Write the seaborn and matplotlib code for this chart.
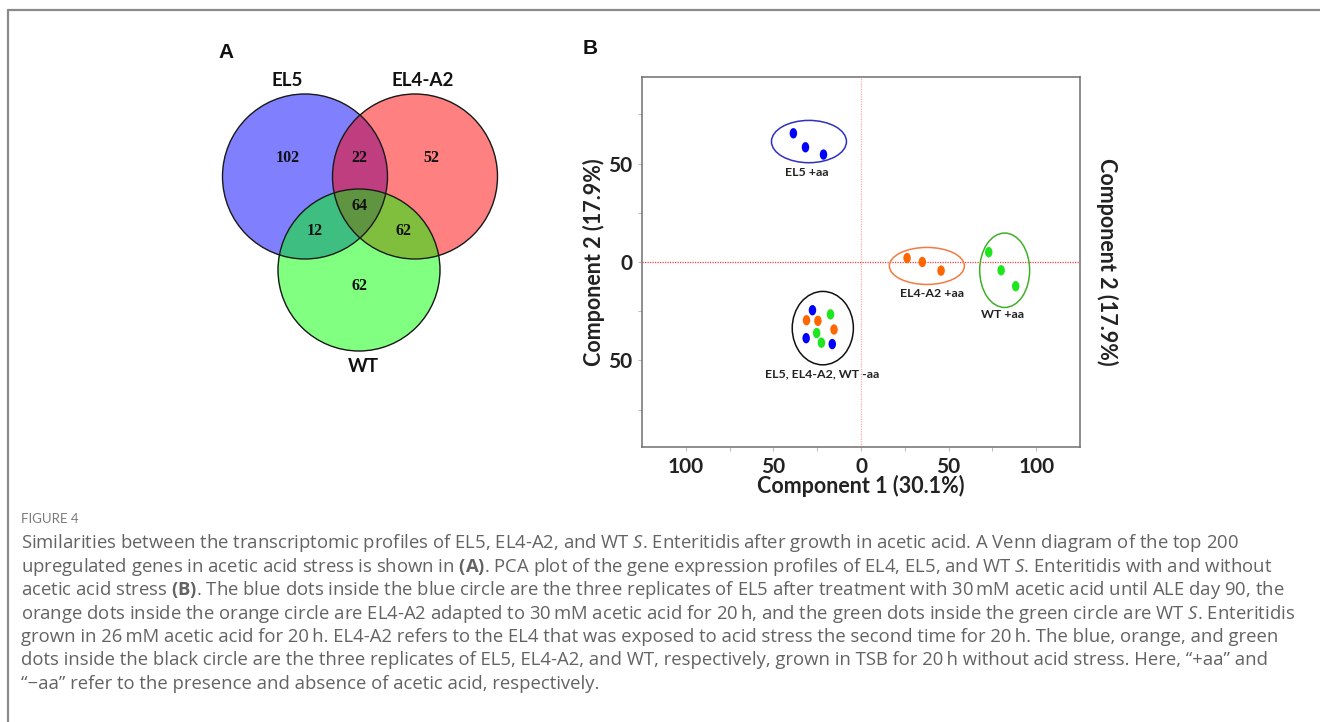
import numpy as np
import pandas as pd
import matplotlib
matplotlib.use("Agg")
import matplotlib.pyplot as plt
import seaborn as sns
from matplotlib.patches import Ellipse, Circle
from matplotlib.path import Path
from matplotlib.lines import Line2D

# ---------------- data ----------------
# Venn (A): counts per region
venn_sets = ["EL5", "EL4-A2", "WT"]
venn_regions = ["EL5 only", "EL4-A2 only", "WT only", "EL5&EL4-A2", "EL5&WT", "EL4-A2&WT", "all"]
venn_counts = [102, 52, 62, 22, 12, 62, 64]

# PCA (B)
pca_strain = ["EL5", "EL5", "EL5", "EL5", "EL5", "EL5",
              "EL4-A2", "EL4-A2", "EL4-A2", "EL4-A2", "EL4-A2", "EL4-A2",
              "WT", "WT", "WT", "WT", "WT", "WT"]
pca_condition = ["+aa", "+aa", "+aa", "-aa", "-aa", "-aa"] * 3
pca_pc1 = [-38.6, -31.7, -21.4, -27.7, -31.3, -16.4,
           26.3, 35.0, 45.7, -31.1, -24.6, -15.4,
           72.9, 80.0, 88.3, -17.4, -25.3, -22.6]
pca_pc2 = [65.4, 58.3, 54.6, -24.5, -38.7, -41.7,
           2.0, 0.0, -4.4, -29.6, -29.9, -34.3,
           5.0, -4.2, -12.3, -26.6, -36.1, -41.0]
cluster_names = ["EL5 +aa", "EL4-A2 +aa", "WT +aa", "EL5, EL4-A2, WT -aa"]
x_ticks = [-100, -50, 0, 50, 100]
x_ticklabels = ["100", "50", "0", "50", "100"]
y_ticks = [-50, 0, 50]
y_ticklabels = ["50", "0", "50"]

# ---------------- style / layout ----------------
W, H = 1320, 722
sns.set_theme(style="white")
plt.rcParams["font.family"] = ["Lato", "DejaVu Sans"]
plt.rcParams["mathtext.fontset"] = "custom"
plt.rcParams["mathtext.rm"] = "Open Sans"
plt.rcParams["mathtext.it"] = "Open Sans:italic"
plt.rcParams["mathtext.bf"] = "Open Sans:bold"

fig = plt.figure(figsize=(W / 100, H / 100), dpi=100)
fig.patch.set_facecolor("white")

def fx(px):
    return px / W

def fy(py):
    return 1 - py / H

# page border (top & left)
fig.add_artist(Line2D([fx(8), 1.0], [fy(10), fy(10)], color="#8a8a8a", lw=1.6))
fig.add_artist(Line2D([fx(8), fx(8)], [fy(10), 0.0], color="#8a8a8a", lw=1.6))

# ---------------- Panel A: Venn ----------------
axv = fig.add_axes([fx(200), fy(400), 320 / W, 370 / H])
axv.set_xlim(200, 520)
axv.set_ylim(400, 30)
axv.axis("off")

centers = {"EL5": (305.0, 176.5), "EL4-A2": (415.0, 176.5), "WT": (359.0, 270.0)}
radius = {"EL5": 82.5, "EL4-A2": 82.5, "WT": 81.0}
region_colors = {
    (1, 0, 0): (128, 128, 255),
    (0, 1, 0): (255, 128, 128),
    (0, 0, 1): (128, 255, 128),
    (1, 1, 0): (190, 62, 128),
    (1, 0, 1): (62, 190, 128),
    (0, 1, 1): (128, 190, 62),
    (1, 1, 1): (95, 150, 64),
}
step = 0.25
gx = np.arange(200, 520, step) + step / 2
gy = np.arange(30, 400, step) + step / 2
XX, YY = np.meshgrid(gx, gy)
masks = []
for s in venn_sets:
    cx, cy = centers[s]
    masks.append(((XX - cx) ** 2 + (YY - cy) ** 2) <= radius[s] ** 2)
img = np.zeros(XX.shape + (4,))
for key, col in region_colors.items():
    m = np.ones(XX.shape, bool)
    for i, k in enumerate(key):
        m &= masks[i] if k else ~masks[i]
    img[m, :3] = np.array(col) / 255
    img[m, 3] = 1
axv.imshow(img, extent=(200, 520, 400, 30), origin="upper", interpolation="antialiased", zorder=1)
for s in venn_sets:
    axv.add_patch(Circle(centers[s], radius[s], fill=False, ec="#1a1a1a", lw=1.0, zorder=2))

count_pos = [(288, 158), (431, 158), (359, 286), (359, 158), (315, 231), (404, 231), (359, 206)]
for (x, y), c in zip(count_pos, venn_counts):
    axv.text(x, y, str(c), ha="center", va="center", fontsize=11.5, fontweight="bold",
             family="Liberation Serif", color="#111", zorder=3)

set_label_pos = {"EL5": (287, 80), "EL4-A2": (423, 80), "WT": (363, 367)}
for s in venn_sets:
    x, y = set_label_pos[s]
    axv.text(x, y, s, ha="center", va="center", fontsize=13.5, fontweight="bold", color="#111")

fig.text(fx(226), fy(52), "A", ha="center", va="center", fontsize=15, fontweight="bold",
         family="Liberation Sans", color="#111")
fig.text(fx(590), fy(49), "B", ha="center", va="center", fontsize=15, fontweight="bold",
         family="Liberation Sans", color="#111")

# ---------------- Panel B: PCA ----------------
L, R, T, B = 642, 1080, 77, 447
ax = fig.add_axes([fx(L), fy(B), (R - L) / W, (B - T) / H])
ax.set_xlim(-125, 125)
ax.set_ylim(-94, 94)

ax.axvline(0, color="#ffaaaa", lw=0.9, ls=(0, (1, 1)), zorder=1)
ax.axhline(0, color="#ff3b3b", lw=0.9, ls=(0, (1, 1)), zorder=1)

df = pd.DataFrame({"strain": pca_strain, "cond": pca_condition, "pc1": pca_pc1, "pc2": pca_pc2})
ell = Path.unit_circle()
ell_marker = Path(ell.vertices * np.array([0.72, 1.0]), ell.codes)
palette = {"EL5": "#0000ff", "EL4-A2": "#ff6600", "WT": "#1ee61e"}
sns.scatterplot(data=df, x="pc1", y="pc2", hue="strain", palette=palette, marker=ell_marker,
                s=56, linewidth=0, legend=False, ax=ax, zorder=3)

# cluster ellipses
ell_center = [(-29.7, 61.2), (37.6, -2.0), (82.0, -4.2), (-21.8, -33.6)]
ell_size = [(42.8, 21.5), (42.8, 18.8), (28.5, 37.8), (34.9, 37.3)]
ell_color = ["#3030c0", "#f47a40", "#40b028", "#111111"]
label_pos = [(-31.1, 45.7), (40.6, -16.0), (80.6, -26.9), (-22.4, -56.8)]
for name, c, sz, col, lp in zip(cluster_names, ell_center, ell_size, ell_color, label_pos):
    ax.add_patch(Ellipse(c, sz[0], sz[1], fill=False, ec=col, lw=1.1, zorder=2))
    ax.text(lp[0], lp[1], name, ha="center", va="center", fontsize=8.9, fontweight="bold", color="#222")

ax.set_xticks(x_ticks)
ax.set_xticklabels(x_ticklabels)
ax.set_yticks(y_ticks)
ax.set_yticklabels(y_ticklabels)
ax.set_xticks([-75, -25, 25, 75], minor=True)
ax.set_yticks([-75, -25, 25, 75], minor=True)
ax.tick_params(axis="both", which="major", labelsize=15, length=3, width=0.7, color="#bbbbbb",
               direction="out", pad=4, labelcolor="#222")
ax.tick_params(axis="both", which="minor", length=3, width=0.7, color="#bbbbbb", direction="out")
ax.tick_params(bottom=True, left=True, which="both")
for lab in ax.get_xticklabels() + ax.get_yticklabels():
    lab.set_fontweight("bold")
for sp in ax.spines.values():
    sp.set_color("#6f6f6f")
    sp.set_linewidth(1.1)

ax.set_xlabel("Component 1 (30.1%)", fontsize=15.5, fontweight="bold", color="#222", va="center")
ax.set_ylabel("Component 2 (17.9%)", fontsize=15.5, fontweight="bold", color="#222", va="center")
ax.xaxis.set_label_coords(0.5, (B - 486) / (B - T))
ax.yaxis.set_label_coords((594 - L) / (R - L), 0.5)
ax.text((1107 - L) / (R - L), 0.5, "Component 2 (17.9%)", transform=ax.transAxes, rotation=270,
        ha="center", va="center", fontsize=15.5, fontweight="bold", color="#222")

# ---------------- caption ----------------
fig.text(fx(21), fy(519), "FIGURE 4", ha="left", va="center", fontsize=9.5, color="#7a7a7a")
cap_lines = [
    "Similarities between the transcriptomic profiles of EL5, EL4-A2, and WT $\\mathit{S}$. Enteritidis after growth in acetic acid. A Venn diagram of the top 200",
    "upregulated genes in acetic acid stress is shown in $\\mathbf{(A)}$. PCA plot of the gene expression profiles of EL4, EL5, and WT $\\mathit{S}$. Enteritidis with and without",
    "acetic acid stress $\\mathbf{(B)}$. The blue dots inside the blue circle are the three replicates of EL5 after treatment with 30\u2009mM acetic acid until ALE day 90, the",
    "orange dots inside the orange circle are EL4-A2 adapted to 30\u2009mM acetic acid for 20\u2009h, and the green dots inside the green circle are WT $\\mathit{S}$. Enteritidis",
    "grown in 26\u2009mM acetic acid for 20\u2009h. EL4-A2 refers to the EL4 that was exposed to acid stress the second time for 20\u2009h. The blue, orange, and green",
    "dots inside the black circle are the three replicates of EL5, EL4-A2, and WT, respectively, grown in TSB for 20\u2009h without acid stress. Here, \u201c+aa\u201d and",
    "\u201c\u2212aa\u201d refer to the presence and absence of acetic acid, respectively.",
]
cap_y = [543, 567, 590, 614, 637, 660, 684]
for line, y in zip(cap_lines, cap_y):
    fig.text(fx(21), fy(y + 5), line, ha="left", va="baseline", fontsize=13.3, color="#636363",
             family=["Open Sans", "DejaVu Sans"])

fig.savefig("out.png", dpi=100, facecolor="white")
